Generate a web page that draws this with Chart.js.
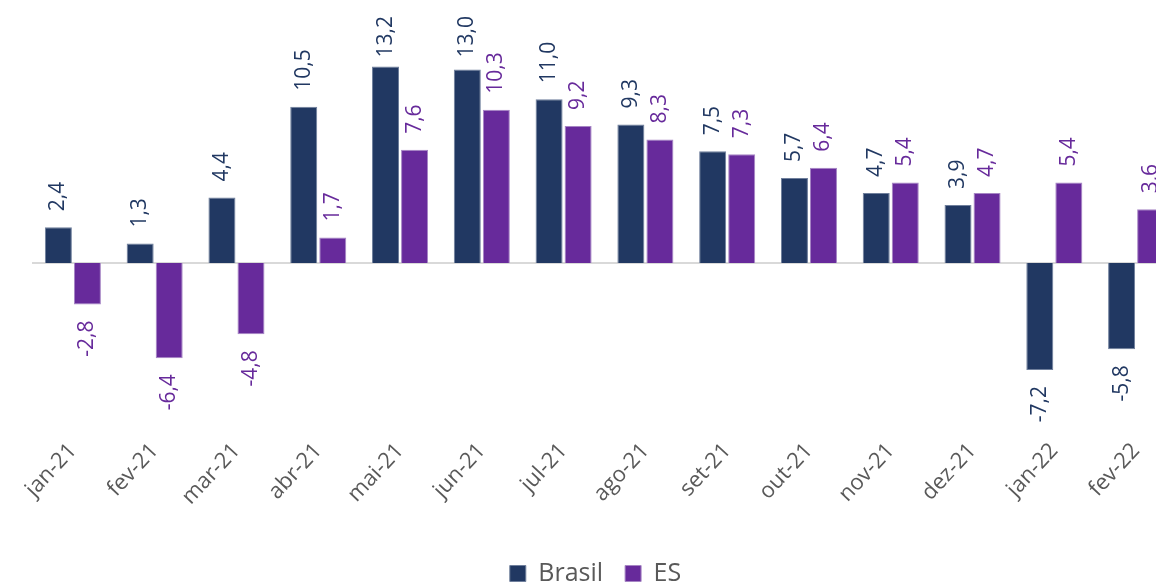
<!DOCTYPE html>
<html>
<head>
<meta charset="utf-8">
<script src="https://cdn.jsdelivr.net/npm/chart.js@4.4.1/dist/chart.umd.min.js"></script>
<style>
  html, body { margin: 0; padding: 0; background: #ffffff; overflow: hidden; }
  #wrap { position: relative; width: 1180px; height: 596px; }
</style>
</head>
<body>
<div id="wrap"><canvas id="c"></canvas></div>
<script>
const categories = ['jan-21','fev-21','mar-21','abr-21','mai-21','jun-21','jul-21','ago-21','set-21','out-21','nov-21','dez-21','jan-22','fev-22'];
const brasil = [2.4, 1.3, 4.4, 10.5, 13.2, 13.0, 11.0, 9.3, 7.5, 5.7, 4.7, 3.9, -7.2, -5.8];
const es = [-2.8, -6.4, -4.8, 1.7, 7.6, 10.3, 9.2, 8.3, 7.3, 6.4, 5.4, 4.7, 5.4, 3.6];
const seriesNames = ['Brasil', 'ES'];

const NAVY = '#213862';
const PURPLE = '#672a9b';
const FONT = "'Open Sans', 'Noto Sans', sans-serif";

const zeroLine = {
  id: 'zeroLine',
  beforeDatasetsDraw(chart) {
    const y = chart.scales.y.getPixelForValue(0);
    const a = chart.chartArea;
    const ctx = chart.ctx;
    ctx.save();
    ctx.strokeStyle = '#d9d9d9';
    ctx.lineWidth = 2;
    ctx.beginPath();
    ctx.moveTo(a.left, y);
    ctx.lineTo(a.right + 20, y);
    ctx.stroke();
    ctx.restore();
  }
};

const valueLabels = {
  id: 'valueLabels',
  afterDatasetsDraw(chart) {
    const ctx = chart.ctx;
    ctx.save();
    ctx.font = '21px ' + FONT;
    ctx.textBaseline = 'middle';
    const OFF = 16, TOPLIM = 16;
    chart.data.datasets.forEach((ds, di) => {
      const meta = chart.getDatasetMeta(di);
      meta.data.forEach((bar, i) => {
        const v = ds.data[i];
        const txt = v.toFixed(1).replace('.', ',');
        const w = ctx.measureText(txt).width;
        ctx.save();
        ctx.fillStyle = ds.backgroundColor;
        if (v >= 0) {
          let start = bar.y - OFF;
          if (start - w < TOPLIM) start = TOPLIM + w;
          ctx.translate(bar.x, start);
          ctx.rotate(-Math.PI / 2);
          ctx.textAlign = 'left';
          ctx.fillText(txt, 0, 0);
        } else {
          ctx.translate(bar.x, bar.y + OFF);
          ctx.rotate(-Math.PI / 2);
          ctx.textAlign = 'right';
          ctx.fillText(txt, 0, 0);
        }
        ctx.restore();
      });
    });
    ctx.restore();
  }
};

new Chart(document.getElementById('c'), {
  type: 'bar',
  data: {
    labels: categories,
    datasets: [
      { label: seriesNames[0], data: brasil, backgroundColor: NAVY, borderColor: '#6f7f9c', borderWidth: 1 },
      { label: seriesNames[1], data: es, backgroundColor: PURPLE, borderColor: '#a685c4', borderWidth: 1 }
    ]
  },
  options: {
    responsive: true,
    maintainAspectRatio: false,
    animation: false,
    categoryPercentage: 0.71,
    barPercentage: 0.93,
    layout: { padding: { left: 14, right: 3, top: 10, bottom: 0 } },
    plugins: {
      legend: {
        position: 'bottom',
        labels: {
          color: '#595959',
          font: { size: 25, family: FONT },
          boxWidth: 16,
          boxHeight: 16,
          padding: 22
        }
      },
      tooltip: { enabled: false }
    },
    scales: {
      x: {
        grid: { display: false, drawTicks: false },
        border: { display: false },
        ticks: {
          color: '#595959',
          font: { size: 22, family: FONT },
          minRotation: 47,
          maxRotation: 47,
          padding: 4
        },
        afterFit(scale) { scale.height = 105; }
      },
      y: {
        display: true,
        min: -11.5,
        max: 17,
        grid: { display: false, drawTicks: false },
        border: { display: false },
        ticks: { display: false },
        afterFit(scale) { scale.width = 18; }
      }
    }
  },
  plugins: [zeroLine, valueLabels]
});
</script>
</body>
</html>
